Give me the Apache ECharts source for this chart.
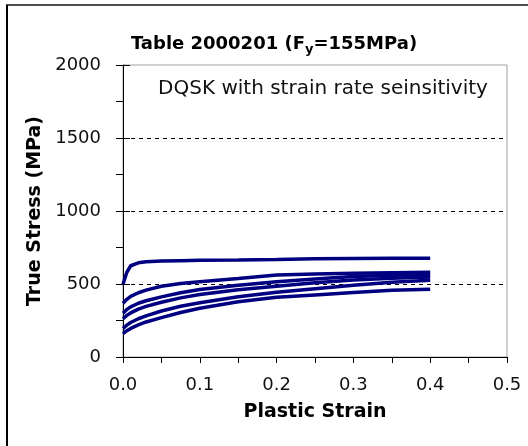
<!DOCTYPE html>
<html>
<head>
<meta charset="utf-8">
<script src="https://cdn.jsdelivr.net/npm/echarts@6/dist/echarts.min.js"></script>
<style>
html,body{margin:0;padding:0;background:#fff;}
#chart{width:528px;height:446px;}
</style>
</head>
<body>
<div id="chart"></div>
<script>
// Plastic strain sample points (shared by all curves)
const strain = [0, 0.005, 0.01, 0.02, 0.03, 0.05, 0.075, 0.1, 0.15, 0.2, 0.25, 0.3, 0.35, 0.4];
// True stress (MPa) for each strain-rate curve
const curveA = [498, 580, 625, 645, 652, 657, 660, 662, 664, 668, 673, 675, 676, 677];
const curveB = [368, 395, 415, 440, 458, 485, 503, 515, 538, 562, 568, 573, 577, 580];
const curveC = [300, 325, 343, 368, 385, 412, 440, 462, 492, 515, 535, 552, 560, 565];
const curveD = [262, 285, 302, 328, 347, 375, 405, 428, 460, 485, 508, 527, 540, 548];
const curveE = [195, 218, 236, 262, 282, 315, 348, 372, 412, 443, 468, 492, 512, 525];
const curveF = [160, 180, 196, 220, 240, 270, 305, 334, 379, 409, 425, 441, 457, 464];
const curves = [curveA, curveB, curveC, curveD, curveE, curveF];

const chartTitle = 'Table 2000201 (F{sub|y}=155MPa)';
const noteText = 'DQSK with strain rate seinsitivity';
const xName = 'Plastic Strain';
const yName = 'True Stress (MPa)';

const chart = echarts.init(document.getElementById('chart'), null, {renderer: 'canvas'});
const FONT = 'DejaVu Sans';

const series = curves.map(function (vals) {
  return {
    type: 'line',
    data: strain.map(function (s, i) { return [s, vals[i]]; }),
    showSymbol: false,
    smooth: false,
    lineStyle: {color: '#000080', width: 3.5},
    itemStyle: {color: '#000080'},
    silent: true
  };
});

chart.setOption({
  animation: false,
  backgroundColor: '#ffffff',
  title: {
    text: chartTitle,
    left: 269,
    top: 27,
    textAlign: 'center',
    textStyle: {
      fontFamily: FONT, fontWeight: 'bold', fontSize: 18, color: '#000',
      lineHeight: 24,
      rich: {
        sub: {fontFamily: FONT, fontWeight: 'bold', fontSize: 13, color: '#000', verticalAlign: 'bottom', lineHeight: 13}
      }
    }
  },
  grid: {
    left: 123, right: 21, top: 65, bottom: 89,
    show: true, borderColor: '#a0a0a0', borderWidth: 1, backgroundColor: 'transparent'
  },
  xAxis: {
    type: 'value', min: 0, max: 0.5, interval: 0.1,
    name: xName, nameLocation: 'middle', nameGap: 46,
    nameTextStyle: {fontFamily: FONT, fontWeight: 'bold', fontSize: 19, color: '#000'},
    axisLine: {show: true, onZero: false, lineStyle: {color: '#000', width: 1}},
    axisTick: {show: true, length: 6, lineStyle: {color: '#000', width: 1}},
    minorTick: {show: true, splitNumber: 2, length: 6, lineStyle: {color: '#000', width: 1}},
    axisLabel: {fontFamily: FONT, fontSize: 18, color: '#111', margin: 19,
      formatter: function (v) { return v.toFixed(1); }},
    splitLine: {show: false}
  },
  yAxis: [{
    type: 'value', min: 0, max: 2000, interval: 500,
    name: yName, nameLocation: 'middle', nameGap: 72, nameRotate: 90,
    nameTextStyle: {fontFamily: FONT, fontWeight: 'bold', fontSize: 19, color: '#000'},
    axisLine: {show: true, onZero: false, lineStyle: {color: '#000', width: 1}},
    axisTick: {show: true, length: 7, lineStyle: {color: '#000', width: 1}},
    minorTick: {show: true, splitNumber: 2, length: 7, lineStyle: {color: '#000', width: 1}},
    axisLabel: {fontFamily: FONT, fontSize: 18, color: '#111', margin: 22,
      formatter: function (v) { return String(v); }},
    splitLine: {show: true, showMinLine: false, showMaxLine: false,
      lineStyle: {color: '#000', width: 1, type: [4, 4]}}
  }, {
    type: 'value', min: 0, max: 2000, interval: 500, position: 'left',
    axisLine: {show: false},
    axisTick: {show: true, inside: true, length: 7, lineStyle: {color: '#000', width: 1}},
    axisLabel: {show: false},
    splitLine: {show: false}
  }],
  graphic: [
    {type: 'line', shape: {x1: 6, y1: 5, x2: 528, y2: 5}, style: {stroke: '#505050', lineWidth: 2}, z: 100},
    {type: 'line', shape: {x1: 7, y1: 5, x2: 7, y2: 446}, style: {stroke: '#000', lineWidth: 2}, z: 100},
    {type: 'text', x: 323, y: 89, style: {text: noteText, fontFamily: FONT, fontSize: 20, fill: '#111',
      textAlign: 'center', textVerticalAlign: 'middle'}, z: 100}
  ],
  series: series
});
</script>
</body>
</html>
